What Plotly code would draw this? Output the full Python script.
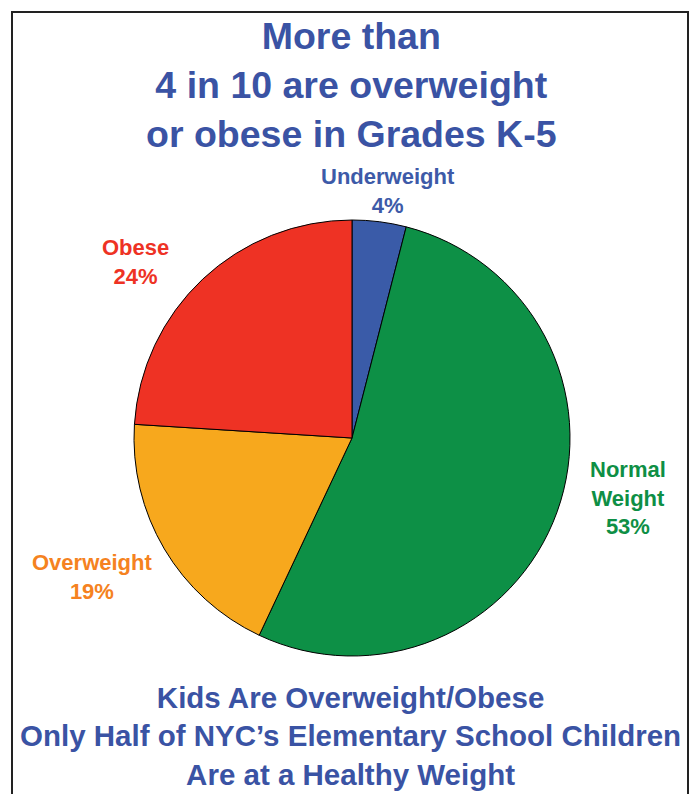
import plotly.graph_objects as go

# Data
categories = ["Underweight", "Normal Weight", "Overweight", "Obese"]
values = [4, 53, 19, 24]
label_lines = ["Underweight", "Normal<br>Weight", "Overweight", "Obese"]
slice_colors = ["#3A5BA8", "#0D9046", "#F7A81D", "#EE3224"]
text_colors = ["#3D5AA8", "#0E8F45", "#F58220", "#EE3224"]
title_text = "More than<br>4 in 10 are overweight<br>or obese in Grades K-5"
footer_text = "Kids Are Overweight/Obese<br>Only Half of NYC’s Elementary School Children<br>Are at a Healthy Weight"

W, H = 691, 794
FONT = "Liberation Sans, Arial, Helvetica, sans-serif"
TITLE_BLUE = "#3A53A4"

cx, cy, r = 352, 438, 218

fig = go.Figure(go.Pie(
    labels=categories,
    values=values,
    sort=False,
    direction="clockwise",
    rotation=0,
    marker=dict(colors=slice_colors, line=dict(color="#000000", width=1)),
    textinfo="none",
    hoverinfo="label+percent",
    showlegend=False,
    domain=dict(x=[(cx - r) / W, (cx + r) / W], y=[1 - (cy + r) / H, 1 - (cy - r) / H]),
))

# label positions (pixel) for each category
label_pos = [(388, 191), (628, 498), (92, 577), (135, 262)]

annotations = []
for lab, val, col, (px, py) in zip(label_lines, values, text_colors, label_pos):
    annotations.append(dict(
        x=px / W, y=1 - py / H, xref="paper", yref="paper",
        text=f"<b>{lab}<br>{val}%</b>", showarrow=False,
        xanchor="center", yanchor="middle", align="center",
        font=dict(family=FONT, size=22, color=col),
    ))

annotations.append(dict(
    x=352 / W, y=1 - 85 / H, xref="paper", yref="paper",
    text=f"<b>{title_text}</b>", showarrow=False,
    xanchor="center", yanchor="middle", align="center",
    font=dict(family=FONT, size=37.5, color=TITLE_BLUE),
))
annotations.append(dict(
    x=350 / W, y=1 - 736 / H, xref="paper", yref="paper",
    text=f"<b>{footer_text}</b>", showarrow=False,
    xanchor="center", yanchor="middle", align="center",
    font=dict(family=FONT, size=29.5, color=TITLE_BLUE),
))

fig.update_layout(
    width=W, height=H,
    margin=dict(l=0, r=0, t=0, b=0),
    paper_bgcolor="white", plot_bgcolor="white",
    annotations=annotations,
    shapes=[dict(type="rect", xref="paper", yref="paper",
                 x0=12 / W, x1=688 / W, y0=-0.05, y1=1 - 12 / H,
                 line=dict(color="#222222", width=2))],
)

fig.write_html("out.html", config={"displayModeBar": False},
               post_script="document.body.style.margin='0';")
